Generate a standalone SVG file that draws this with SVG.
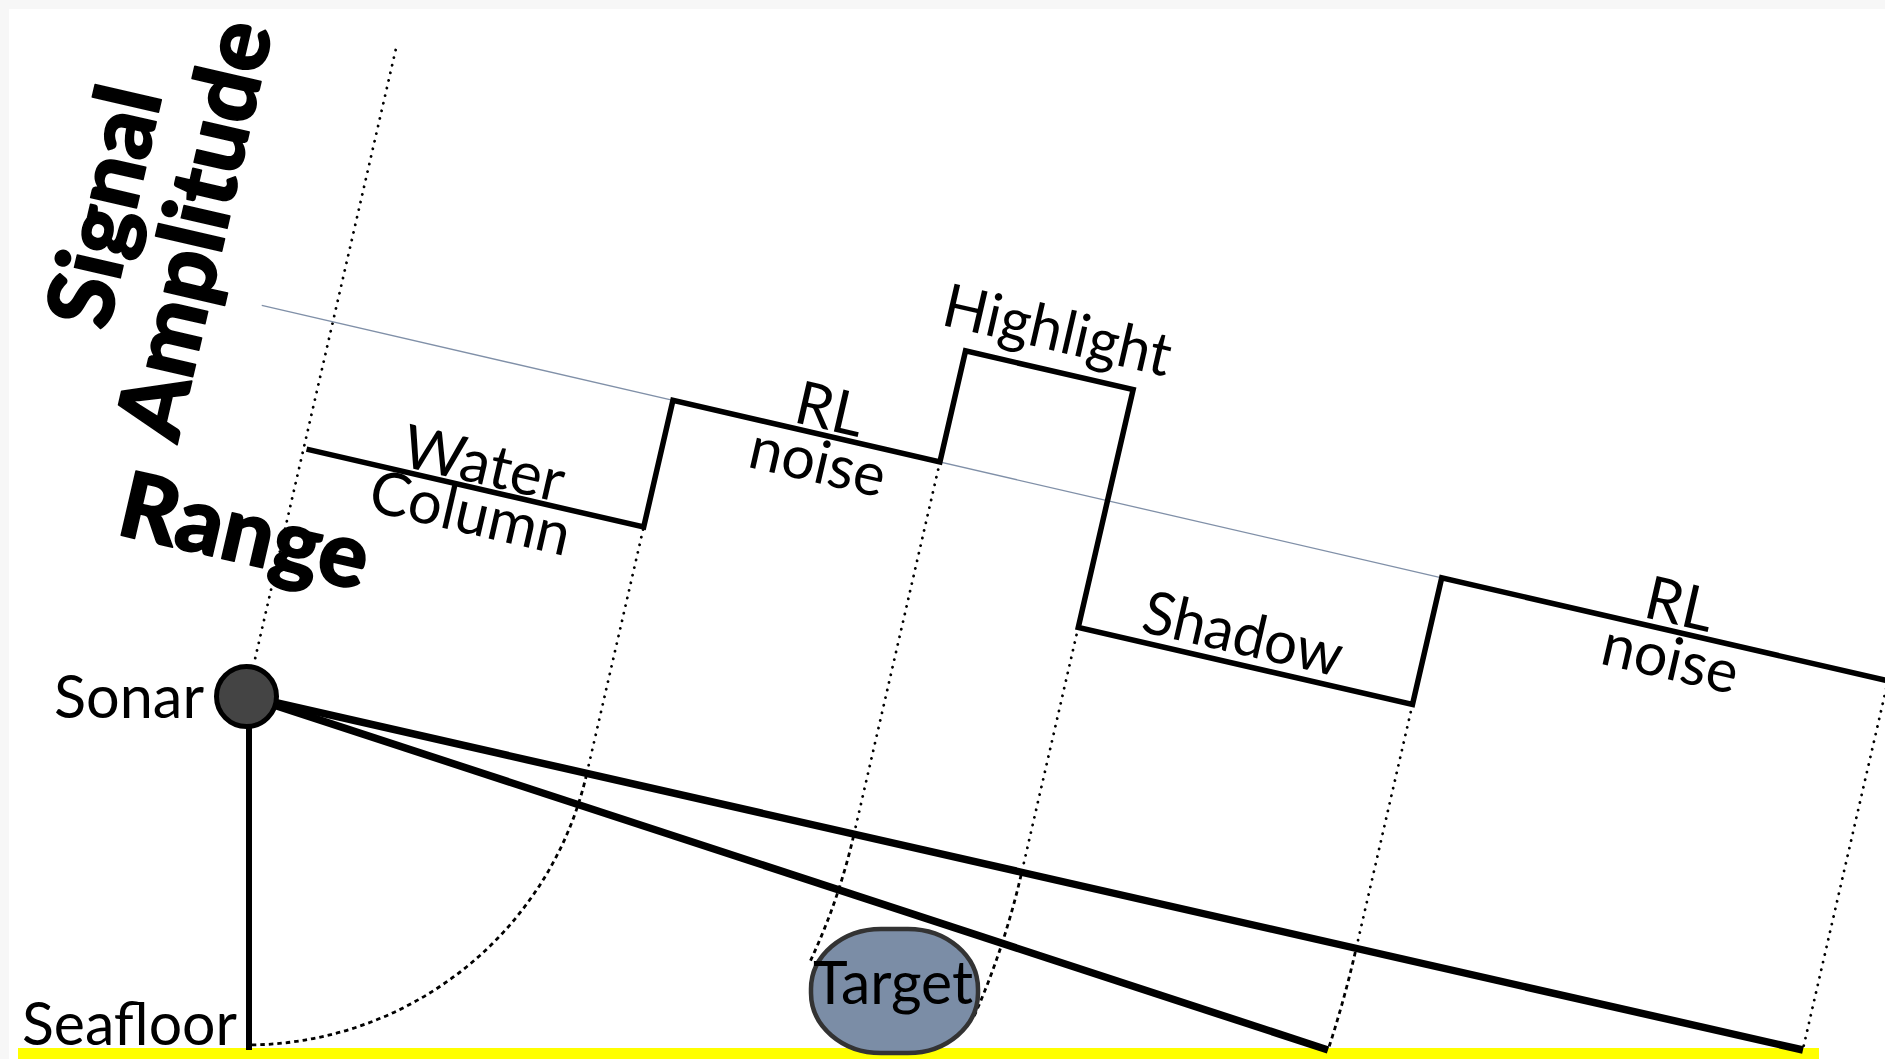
<svg xmlns="http://www.w3.org/2000/svg" width="1885" height="1059" viewBox="0 0 1885 1059">
  <style>
    .lbl { font-family: Lato, "Open Sans", "DejaVu Sans", sans-serif; font-size: 60px; fill: #000; }
    .axis { font-family: Lato, "Open Sans", "DejaVu Sans", sans-serif; font-weight: 900; font-size: 91px; fill: #000; stroke: #000; stroke-width: 1.6; stroke-linejoin: round; }
    .dots { fill: none; stroke: #000; stroke-width: 2.8; stroke-linecap: round; stroke-dasharray: 0.1 7.7; }
    .dash { fill: none; stroke: #000; stroke-width: 2.8; stroke-dasharray: 4.5 4; }
    .beam { stroke: #000; stroke-width: 7.5; }
    .trace { fill: none; stroke: #000; stroke-width: 5.5; stroke-linejoin: miter; }
  </style>

  <!-- page -->
  <rect width="1885" height="1059" fill="#f7f7f7"/>
  <rect x="9" y="9" width="1876" height="1050" fill="#ffffff"/>

  <!-- seafloor strip -->
  <g id="seafloor">
    <rect x="18" y="1048" width="1801" height="11" fill="#ffff00"/>
    <text class="lbl" x="22" y="1045" font-size="58" textLength="215" lengthAdjust="spacingAndGlyphs">Seafloor</text>
  </g>

  <g id="connectors">
    <!-- range lines: straight in the rotated range frame, then arcs around the sonar down to the floor -->
    <g transform="translate(246.5 696) rotate(13)">
      <line class="dots" x1="0" y1="-663" x2="0" y2="-33"/>
      <line class="dots" x1="349" y1="-384" x2="349" y2="0"/>
      <path class="dash" d="M349 0 A349 349 0 0 1 78.5 340.05"/>
      <line class="dots" x1="623" y1="-384" x2="623" y2="0"/>
      <path class="dash" d="M623 0 A623 623 0 0 1 608.7 132.72"/>
      <line class="dots" x1="795" y1="-254" x2="795" y2="0"/>
      <path class="dash" d="M795 0 A795 795 0 0 1 780.92 148.97"/>
      <line class="dots" x1="1138" y1="-254" x2="1138" y2="0"/>
      <path class="dash" d="M1138 0 A1138 1138 0 0 1 1133.46 101.56"/>
      <line class="dots" x1="1596" y1="-384" x2="1596" y2="-6"/>
    </g>
    <!-- sonar beams and nadir line -->
    <line class="beam" x1="246.5" y1="696" x2="1803" y2="1050"/>
    <line class="beam" x1="246.5" y1="696" x2="1328" y2="1050"/>
    <line x1="249" y1="720" x2="249" y2="1050" stroke="#000" stroke-width="6"/>
  </g>

  <!-- target on the floor -->
  <g id="target">
    <rect x="811" y="929" width="167" height="124" rx="70" ry="60" fill="#7b8da6" stroke="#333" stroke-width="4.5"/>
    <text class="lbl" x="813" y="1004" textLength="160" lengthAdjust="spacingAndGlyphs">Target</text>
  </g>

  <!-- sonar head -->
  <g id="sonar">
    <circle cx="246.5" cy="696.5" r="30" fill="#444444" stroke="#000" stroke-width="5"/>
    <text class="lbl" x="54" y="718" font-size="58" textLength="150" lengthAdjust="spacingAndGlyphs">Sonar</text>
  </g>

  <!-- signal amplitude trace, drawn in the rotated range frame -->
  <g id="signal" transform="translate(246.5 696) rotate(13)">
    <line x1="-73" y1="-384" x2="1138" y2="-384" stroke="#8090a8" stroke-width="1.3"/>
    <polyline class="trace" points="3,-254 349,-254 349,-384 623,-384 623,-498 795,-498 795,-254 1138,-254 1138,-384 1700,-384"/>
  </g>

  <g id="segment-labels" transform="translate(246.5 696) rotate(13)">
    <text class="lbl" x="179" y="-259" text-anchor="middle" textLength="164" lengthAdjust="spacingAndGlyphs">Water</text>
    <text class="lbl" x="177" y="-208" text-anchor="middle" textLength="204" lengthAdjust="spacingAndGlyphs">Column</text>
    <text class="lbl" x="504" y="-390" text-anchor="middle">RL</text>
    <text class="lbl" x="504" y="-336" text-anchor="middle" textLength="138" lengthAdjust="spacingAndGlyphs">noise</text>
    <text class="lbl" x="708" y="-518" text-anchor="middle" textLength="232" lengthAdjust="spacingAndGlyphs">Highlight</text>
    <text class="lbl" x="957" y="-264" text-anchor="middle" textLength="203" lengthAdjust="spacingAndGlyphs">Shadow</text>
    <text class="lbl" x="1376" y="-391" text-anchor="middle">RL</text>
    <text class="lbl" x="1379" y="-336" text-anchor="middle" textLength="138" lengthAdjust="spacingAndGlyphs">noise</text>
  </g>

  <!-- axis titles -->
  <g id="axis-titles">
    <text class="axis" transform="translate(103 206) rotate(-77)" text-anchor="middle" y="33">Signal</text>
    <text class="axis" transform="translate(193 229) rotate(-77)" text-anchor="middle" y="33">Amplitude</text>
    <text class="axis" transform="translate(245 530) rotate(13)" text-anchor="middle" y="33">Range</text>
  </g>
</svg>
